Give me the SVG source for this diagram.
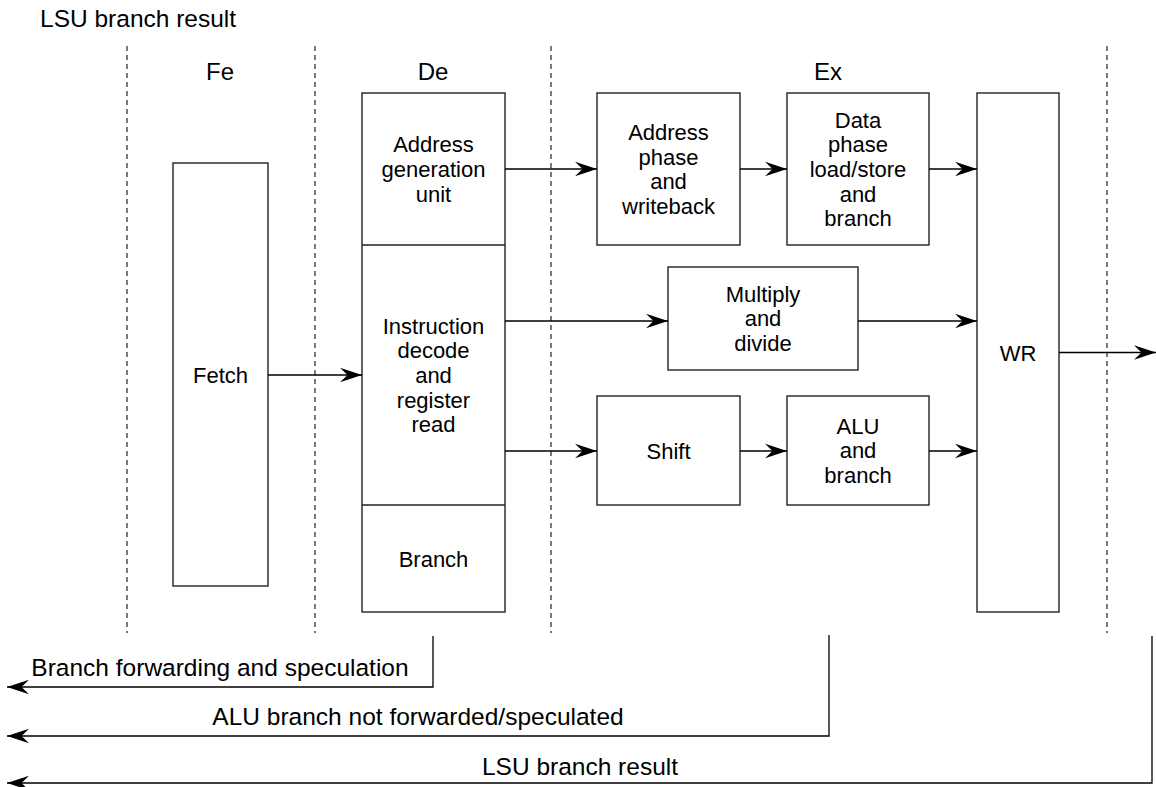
<svg xmlns="http://www.w3.org/2000/svg" width="1156" height="787" viewBox="0 0 1156 787">
<defs>
<marker id="ah" viewBox="-23 -8 24 16" refX="0" refY="0" markerWidth="24" markerHeight="16" markerUnits="userSpaceOnUse" orient="auto">
<path d="M0,0 L-22,-7.2 L-14.5,0 L-22,7.2 Z" fill="#000"/>
</marker>
<style>
.box{fill:#fff;stroke:#222;stroke-width:1.4}
.div{stroke:#222;stroke-width:1.4}
.dash{stroke:#222;stroke-width:1.2;stroke-dasharray:5 4;fill:none}
.con{stroke:#000;stroke-width:1.3;fill:none;marker-end:url(#ah)}
text{font-family:"Liberation Sans",Arial,Helvetica,sans-serif;font-size:22px;fill:#000;text-anchor:middle}
.lbl{font-size:24.5px}
.hdr{font-size:24px}
.lft{text-anchor:start}
</style>
</defs>
<rect width="1156" height="787" fill="#fff"/>
<g id="stages">
<line class="dash" x1="127" y1="46" x2="127" y2="633"/>
<line class="dash" x1="315" y1="46" x2="315" y2="633"/>
<line class="dash" x1="551" y1="46" x2="551" y2="633"/>
<line class="dash" x1="1107" y1="46" x2="1107" y2="633"/>
<text class="lbl lft" x="40" y="27">LSU branch result</text>
<text class="hdr" x="220" y="80">Fe</text>
<text class="hdr" x="433" y="80">De</text>
<text class="hdr" x="828" y="80">Ex</text>
</g>
<g id="fetch">
<rect class="box" x="173" y="163" width="95" height="423"/>
<text x="220.5" y="383">Fetch</text>
</g>
<g id="decode">
<rect class="box" x="362" y="93" width="143" height="519"/>
<line class="div" x1="362" y1="245" x2="505" y2="245"/>
<line class="div" x1="362" y1="505" x2="505" y2="505"/>
</g>
<g id="agu">
<text x="433.5" y="152.2"><tspan x="433.5">Address</tspan><tspan x="433.5" dy="24.7">generation</tspan><tspan x="433.5" dy="24.7">unit</tspan></text>
</g>
<g id="idr">
<text x="433.5" y="333.5"><tspan x="433.5">Instruction</tspan><tspan x="433.5" dy="24.7">decode</tspan><tspan x="433.5" dy="24.7">and</tspan><tspan x="433.5" dy="24.7">register</tspan><tspan x="433.5" dy="24.7">read</tspan></text>
</g>
<g id="branch">
<text x="433.5" y="566.5">Branch</text>
</g>
<g id="addrphase">
<rect class="box" x="597" y="93" width="143" height="152"/>
<text x="668.5" y="139.9"><tspan x="668.5">Address</tspan><tspan x="668.5" dy="24.7">phase</tspan><tspan x="668.5" dy="24.7">and</tspan><tspan x="668.5" dy="24.7">writeback</tspan></text>
</g>
<g id="dataphase">
<rect class="box" x="787" y="93" width="142" height="152"/>
<text x="858" y="127.5"><tspan x="858">Data</tspan><tspan x="858" dy="24.7">phase</tspan><tspan x="858" dy="24.7">load/store</tspan><tspan x="858" dy="24.7">and</tspan><tspan x="858" dy="24.7">branch</tspan></text>
</g>
<g id="muldiv">
<rect class="box" x="668" y="267" width="190" height="103"/>
<text x="763" y="301.7"><tspan x="763">Multiply</tspan><tspan x="763" dy="24.7">and</tspan><tspan x="763" dy="24.7">divide</tspan></text>
</g>
<g id="shift">
<rect class="box" x="597" y="396" width="143" height="109"/>
<text x="668.5" y="458.5">Shift</text>
</g>
<g id="alu">
<rect class="box" x="787" y="396" width="142" height="109"/>
<text x="858" y="433.7"><tspan x="858">ALU</tspan><tspan x="858" dy="24.7">and</tspan><tspan x="858" dy="24.7">branch</tspan></text>
</g>
<g id="wr">
<rect class="box" x="977" y="93" width="82" height="519"/>
<text x="1018" y="360.5">WR</text>
</g>
<g id="connectors">
<line class="con" x1="268" y1="375" x2="362" y2="375"/>
<line class="con" x1="505" y1="169" x2="597" y2="169"/>
<line class="con" x1="740" y1="169" x2="787" y2="169"/>
<line class="con" x1="929" y1="169" x2="977" y2="169"/>
<line class="con" x1="505" y1="321" x2="668" y2="321"/>
<line class="con" x1="858" y1="321" x2="977" y2="321"/>
<line class="con" x1="505" y1="451" x2="597" y2="451"/>
<line class="con" x1="740" y1="451" x2="787" y2="451"/>
<line class="con" x1="929" y1="451" x2="977" y2="451"/>
<line class="con" x1="1059" y1="352.5" x2="1156" y2="352.5"/>
<polyline class="con" points="433,636 433,687 7,687"/>
<polyline class="con" points="829,635 829,736 7,736"/>
<polyline class="con" points="1152,636 1152,783 7,783"/>
</g>
<g id="labels">
<text class="lbl" x="220" y="676">Branch forwarding and speculation</text>
<text class="lbl" x="418" y="725">ALU branch not forwarded/speculated</text>
<text class="lbl" x="580" y="775">LSU branch result</text>
</g>
</svg>
